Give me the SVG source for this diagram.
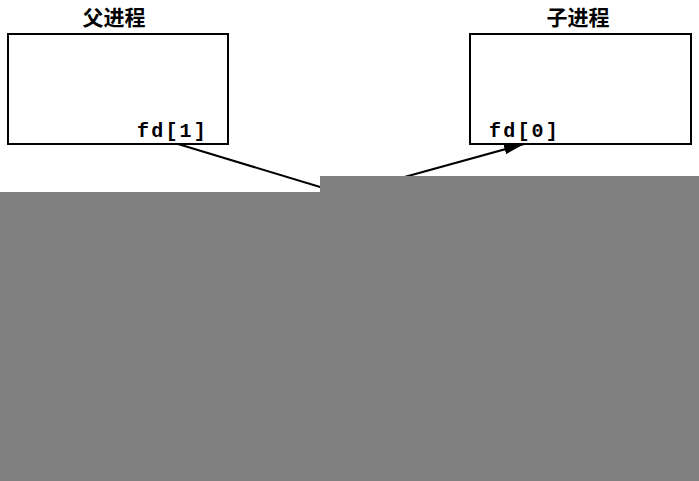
<svg xmlns="http://www.w3.org/2000/svg" width="699" height="481" viewBox="0 0 699 481">
<style>
.box{fill:#fff;stroke:#000;stroke-width:2}
.title{font-family:"Noto Sans CJK SC","Noto Sans",sans-serif;font-size:21px;font-weight:bold;fill:#000;text-anchor:middle}
.fd{font-family:"Liberation Mono","DejaVu Sans Mono",monospace;font-size:20px;font-weight:bold;fill:#000;letter-spacing:2.2px}
.conn{stroke:#000;stroke-width:2;fill:none}
</style>
<defs>
<marker id="arrBig" viewBox="0 0 20 10" refX="20" refY="5" markerWidth="20" markerHeight="10" markerUnits="userSpaceOnUse" orient="auto">
<path d="M0,0 L20,5 L0,10 z" fill="#000"/>
</marker>
</defs>
<rect width="699" height="481" fill="#fff"/>
<g id="parent">
<rect class="box" x="8" y="34" width="220" height="110"/>
<text class="title" x="114" y="25">父进程</text>
<text class="fd" x="137" y="137">fd[1]</text>
</g>
<g id="child">
<rect class="box" x="470" y="34" width="221" height="110"/>
<text class="title" x="578" y="25">子进程</text>
<text class="fd" x="489" y="137">fd[0]</text>
</g>
<g id="connectors">
<line class="conn" x1="178" y1="144" x2="340" y2="193"/>
<line class="conn" x1="390" y1="181" x2="524" y2="144" marker-end="url(#arrBig)"/>
</g>
<polygon points="0,192 320,192 320,176 699,176 699,481 0,481" fill="#808080"/>
</svg>
